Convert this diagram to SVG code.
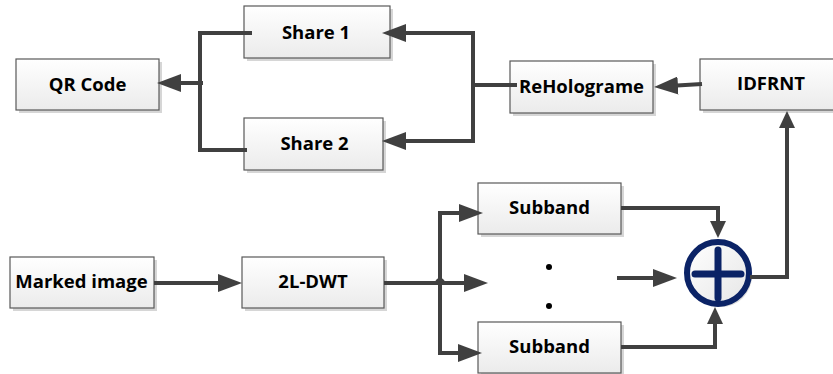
<svg xmlns="http://www.w3.org/2000/svg" width="833" height="374" viewBox="0 0 833 374">
<defs>
<linearGradient id="boxg" x1="0" y1="0" x2="0" y2="1">
<stop offset="0" stop-color="#ffffff"/>
<stop offset="1" stop-color="#ebebeb"/>
</linearGradient>
<linearGradient id="circg" x1="0" y1="0" x2="1" y2="1">
<stop offset="0" stop-color="#ffffff"/>
<stop offset="1" stop-color="#e6e6e6"/>
</linearGradient>
<marker id="aL" markerUnits="userSpaceOnUse" markerWidth="25" markerHeight="18" refX="1" refY="9" orient="auto">
<path d="M0,0 L24,9 L0,18 z" fill="#404040"/>
</marker>
<marker id="aS" markerUnits="userSpaceOnUse" markerWidth="18" markerHeight="16" refX="1" refY="8" orient="auto">
<path d="M0,0 L17,8 L0,16 z" fill="#404040"/>
</marker>
</defs>
<style>
.box{fill:url(#boxg);stroke:#595959;stroke-width:1.2}
.sh{fill:#d6d6d6}
.lbl{font-family:"Open Sans","Liberation Sans",sans-serif;font-weight:bold;font-size:18.5px;fill:#000;text-anchor:middle}
.c{fill:none;stroke:#404040;stroke-width:4}
</style>
<rect width="833" height="374" fill="#ffffff"/>

<g id="qr">
<rect class="sh" x="19" y="62" width="143" height="51"/>
<rect class="box" x="16" y="59" width="143" height="51"/>
<text class="lbl" x="87.5" y="91">QR Code</text>
</g>
<g id="share1">
<rect class="sh" x="247" y="9" width="146" height="52"/>
<rect class="box" x="244" y="6" width="146" height="52"/>
<text class="lbl" x="316" y="39">Share 1</text>
</g>
<g id="share2">
<rect class="sh" x="247" y="121" width="139" height="52"/>
<rect class="box" x="244" y="118" width="139" height="52"/>
<text class="lbl" x="314.5" y="150">Share 2</text>
</g>
<g id="reholograme">
<rect class="sh" x="513" y="64" width="143" height="52"/>
<rect class="box" x="510" y="61" width="143" height="52"/>
<text class="lbl" x="581.5" y="93">ReHolograme</text>
</g>
<g id="idfrnt">
<rect class="sh" x="703" y="62" width="143" height="51"/>
<rect class="box" x="700" y="59" width="143" height="51"/>
<text class="lbl" x="771" y="90">IDFRNT</text>
</g>
<g id="marked">
<rect class="sh" x="13" y="260" width="144" height="51"/>
<rect class="box" x="10" y="257" width="144" height="51"/>
<text class="lbl" x="81.5" y="288">Marked image</text>
</g>
<g id="dwt">
<rect class="sh" x="245" y="260" width="142" height="51"/>
<rect class="box" x="242" y="257" width="142" height="51"/>
<text class="lbl" x="313" y="288">2L-DWT</text>
</g>
<g id="subband1">
<rect class="sh" x="481" y="186" width="143" height="51"/>
<rect class="box" x="478" y="183" width="143" height="51"/>
<text class="lbl" x="549.5" y="214">Subband</text>
</g>
<g id="subband2">
<rect class="sh" x="481" y="325" width="143" height="51"/>
<rect class="box" x="478" y="322" width="143" height="51"/>
<text class="lbl" x="549.5" y="353">Subband</text>
</g>
<g id="dots">
<circle cx="549" cy="267" r="3" fill="#000"/>
<circle cx="549" cy="306" r="3" fill="#000"/>
</g>
<g id="sum">
<circle cx="721" cy="276" r="31" fill="#dcdcdc"/>
<circle cx="718" cy="273" r="31" fill="url(#circg)" stroke="#0b2366" stroke-width="6"/>
<path d="M695,274 H741 M718,250 V298" stroke="#0b2366" stroke-width="7" stroke-linecap="round" fill="none"/>
</g>

<g id="connectors">
<path class="c" d="M252,33 H200 V150 H247"/>
<path class="c" d="M203,83 H180" marker-end="url(#aL)"/>
<path class="c" d="M517,85 H473"/>
<path class="c" d="M473,85 V33 H405" marker-end="url(#aL)"/>
<path class="c" d="M473,85 V141 H405" marker-end="url(#aL)"/>
<path class="c" d="M702,84 L677,85.6" marker-end="url(#aL)"/>
<path class="c" d="M154,283 H219" marker-end="url(#aL)"/>
<path class="c" d="M384,283 H437 a3,3 0 0 1 6,0 H465" marker-end="url(#aL)"/>
<path class="c" d="M440,283 V213 H460" marker-end="url(#aL)"/>
<path class="c" d="M440,283 V353 H459" marker-end="url(#aL)"/>
<path class="c" d="M621,208 H718 V222" marker-end="url(#aS)"/>
<path class="c" d="M621,347 H715 V323" marker-end="url(#aS)"/>
<path class="c" d="M617,278 H654" marker-end="url(#aL)"/>
<path class="c" d="M750,277 H787 V127" marker-end="url(#aS)"/>
</g>
</svg>
